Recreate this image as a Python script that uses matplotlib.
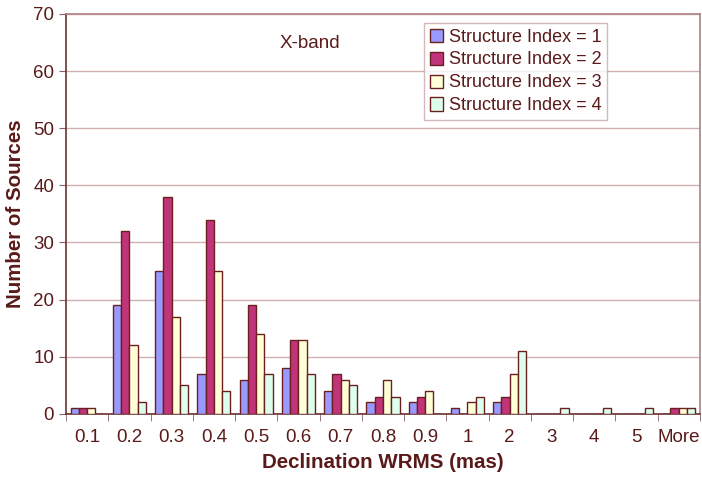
import matplotlib.pyplot as plt
import numpy as np

plt.rcParams['font.family'] = ['Liberation Sans', 'DejaVu Sans']

categories = ["0.1", "0.2", "0.3", "0.4", "0.5", "0.6", "0.7", "0.8", "0.9",
              "1", "2", "3", "4", "5", "More"]
si1 = [1, 19, 25, 7, 6, 8, 4, 2, 2, 1, 2, 0, 0, 0, 0]
si2 = [1, 32, 38, 34, 19, 13, 7, 3, 3, 0, 3, 0, 0, 0, 1]
si3 = [1, 12, 17, 25, 14, 13, 6, 6, 4, 2, 7, 0, 0, 0, 1]
si4 = [0, 2, 5, 4, 7, 7, 5, 3, 0, 3, 11, 1, 1, 1, 1]
labels = ["Structure Index = 1", "Structure Index = 2",
          "Structure Index = 3", "Structure Index = 4"]

colors = ["#9999FF", "#C0357A", "#FFFFD8", "#DDFFEE"]
edge = "#6B2020"
txt = "#5A1A1A"

fig = plt.figure(figsize=(7.02, 4.79), dpi=100)
ax = fig.add_axes([0.094, 0.136, 0.903, 0.835])

x = np.arange(len(categories))
w = 0.196
for i, (vals, lab) in enumerate(zip([si1, si2, si3, si4], labels)):
    v = np.array(vals, dtype=float)
    ax.bar(x + (i - 1.5) * w, v, w, color=colors[i], edgecolor=edge,
           linewidth=1.0, label=lab, zorder=3)

ax.set_xlim(-0.5, len(categories) - 0.5)
ax.set_ylim(0, 70)
ax.set_yticks(range(0, 71, 10))
ax.yaxis.grid(True, color="#D0B0B0", linewidth=1.0, zorder=0)
ax.set_xticks(x)
ax.set_xticklabels(categories)
ax.set_xticks(np.arange(-0.5, len(categories), 1), minor=True)
ax.tick_params(axis="x", which="major", length=0, pad=11, labelsize=13.5, labelcolor=txt)
ax.tick_params(axis="x", which="minor", length=5, color="#8a6060")
ax.tick_params(axis="y", length=5, color="#8a6060", labelsize=13.5, labelcolor=txt)

for s in ["left", "bottom"]:
    ax.spines[s].set_color("#6B3030")
    ax.spines[s].set_linewidth(1.2)
for s in ["top", "right"]:
    ax.spines[s].set_color("#B08080")
    ax.spines[s].set_linewidth(1.2)

ax.set_xlabel("Declination WRMS (mas)", fontsize=14.8, fontweight="bold", color=txt, labelpad=5)
ax.set_ylabel("Number of Sources", fontsize=14.8, fontweight="bold", color=txt, labelpad=6)

ax.text(0.385, 0.925, "X-band", transform=ax.transAxes, fontsize=13.5, color=txt,
        ha="center", va="center")

leg = ax.legend(loc="upper left", bbox_to_anchor=(0.565, 0.977), frameon=True,
                fancybox=False, fontsize=13, handlelength=0.75, handleheight=0.75,
                handletextpad=0.3, borderpad=0.3, labelspacing=0.33, borderaxespad=0)
leg.get_frame().set_edgecolor("#C8A8A8")
leg.get_frame().set_linewidth(1.0)
for t in leg.get_texts():
    t.set_color(txt)

fig.savefig("out.png", dpi=100)
